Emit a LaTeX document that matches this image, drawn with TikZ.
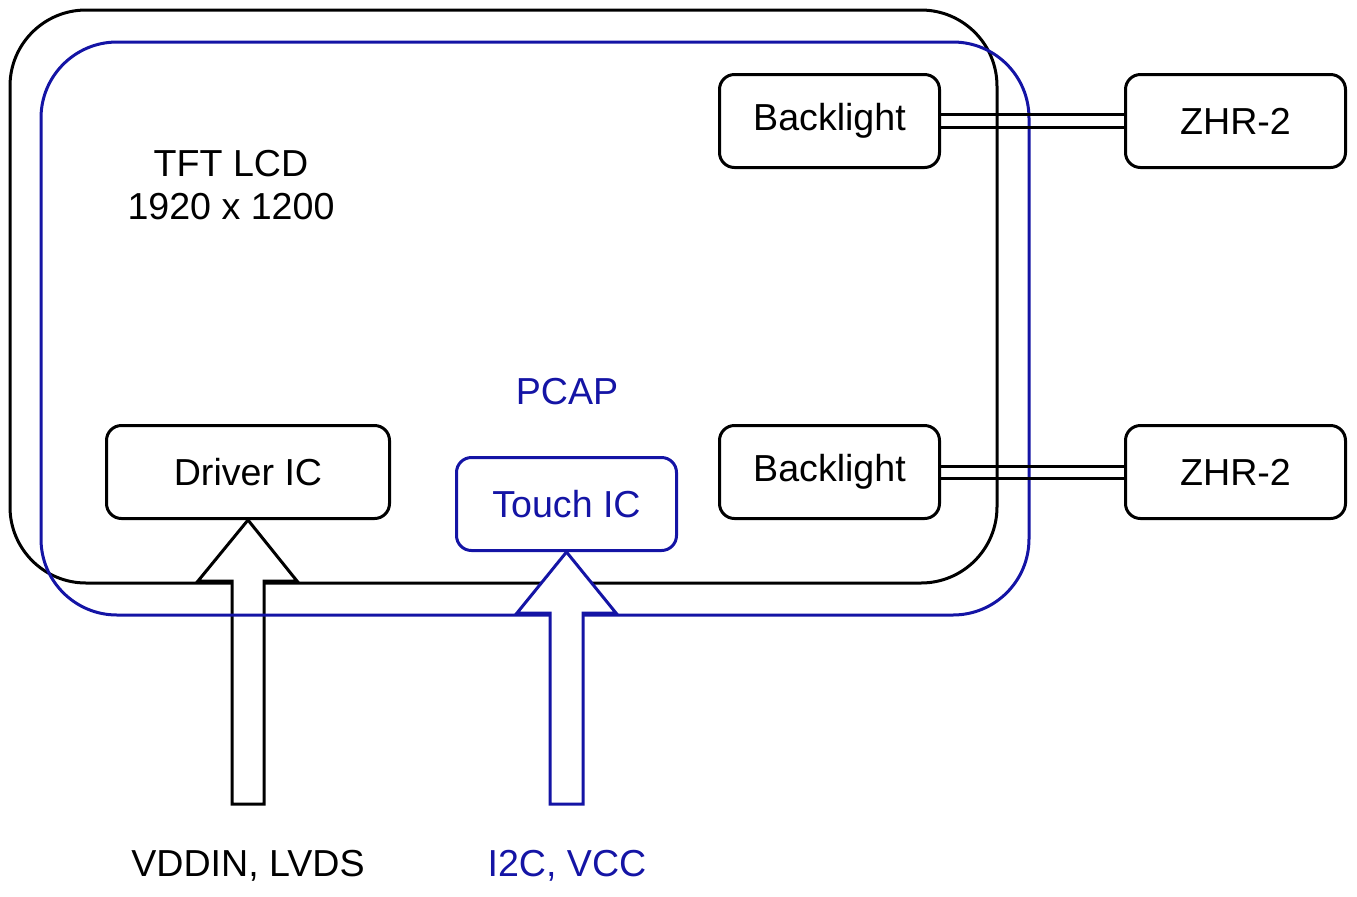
\documentclass[tikz,border=0pt]{standalone}
\usepackage{fontspec}
\setmainfont{Liberation Sans}
\usetikzlibrary{calc}
\definecolor{pcapblue}{RGB}{20,20,165}
\tikzset{
	box/.style={draw, line width=1.5pt, rounded corners=7.5pt, minimum width=110pt, minimum height=46.5pt, font=\fontsize{18.8}{22}\selectfont},
	lbl/.style={font=\fontsize{18.8}{21.5}\selectfont, align=center},
	bigarrow/.style={line width=1.5pt, fill=white, line join=miter}
}
\begin{document}
\begin{tikzpicture}[x=0.5pt,y=-0.5pt]
		\useasboundingbox (0,0) rectangle (1357,896);
		% LCD panel
		\draw[line width=1.5pt, rounded corners=38pt] (10,10) rectangle (997,583);
		\node[lbl] (lcd) at (231,185) {TFT LCD\\1920 x 1200};
		\node[box, minimum width=141.5pt] (drv) at (248,472) {Driver IC};
		\node[box] (bl1) at (829.5,121) {Backlight};
		\node[box] (bl2) at (829.5,472) {Backlight};
		\node[box] (zhr1) at (1235.5,121) {ZHR-2};
		\node[box] (zhr2) at (1235.5,472) {ZHR-2};
		\draw[bigarrow] (drv.south) -- (297,581) -- (264,581) -- (264,804) -- (232,804) -- (232,581) -- (198,581) -- cycle;
		\node[lbl] (vdd) at (248,866) {VDDIN, LVDS};
		% touch panel
		\draw[pcapblue, line width=1.5pt, rounded corners=38pt] (41,42) rectangle (1029,615);
		\node[lbl, text=pcapblue] (pcap) at (567,392) {PCAP};
		\node[box, draw=pcapblue, text=pcapblue] (tch) at (566.5,504) {Touch IC};
		\draw[bigarrow, draw=pcapblue] (tch.south) -- (616,613) -- (583,613) -- (583,804) -- (550,804) -- (550,613) -- (517,613) -- cycle;
		\node[lbl, text=pcapblue] (i2c) at (567,866) {I2C, VCC};
		% connectors
		\draw[line width=1.5pt] ($(bl1.east)+(0,-6.5)$) -- ($(zhr1.west)+(0,-6.5)$);
		\draw[line width=1.5pt] ($(bl1.east)+(0,6.5)$) -- ($(zhr1.west)+(0,6.5)$);
		\draw[line width=1.5pt] ($(bl2.east)+(0,-6)$) -- ($(zhr2.west)+(0,-6)$);
		\draw[line width=1.5pt] ($(bl2.east)+(0,6)$) -- ($(zhr2.west)+(0,6)$);
		
	\end{tikzpicture}
\end{document}
